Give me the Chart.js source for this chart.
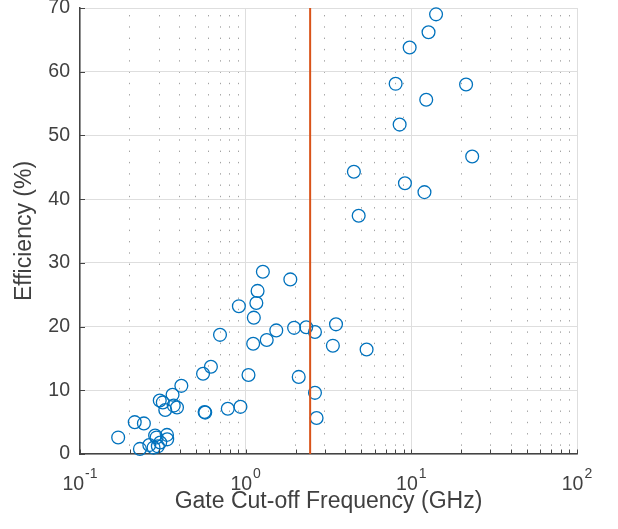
<!DOCTYPE html>
<html>
<head>
<meta charset="utf-8">
<script src="https://cdn.jsdelivr.net/npm/chart.js@4/dist/chart.umd.min.js"></script>
<style>
html,body{margin:0;padding:0;background:#fff;overflow:hidden}
#wrap{width:618px;height:529px;position:relative}
</style>
</head>
<body>
<div id="wrap"><canvas id="c" width="618" height="529"></canvas></div>
<script>
// ---- data ----
const freqGHz = [0.170,0.214,0.243,0.230,0.262,0.278,0.305,0.284,0.290,0.335,0.336,0.295,
  0.303,0.316,0.327,0.362,0.368,0.385,0.409,0.553,0.617,0.565,0.570,0.78,0.93,
  0.70,0.91,1.04,1.11,1.12,1.16,1.18,1.27,1.34,1.53,1.86,1.96,2.32,2.09,2.62,2.62,2.68,
  3.51,3.36,5.37,4.50,4.81,8.50,9.15,12.0,23.3,8.04,21.4,12.3,9.77,12.7,14.1];
const efficiencyPct = [2.6,5.0,4.8,0.8,1.4,1.0,1.8,2.9,2.6,3.0,2.3,1.2,
  8.4,8.1,6.9,9.3,7.6,7.3,10.7,12.6,13.7,6.6,6.5,7.1,7.4,
  18.7,23.2,12.4,17.3,21.4,23.7,25.6,28.6,17.9,19.4,27.4,19.8,19.9,12.1,19.15,9.6,5.65,
  20.35,17.0,16.4,44.3,37.4,51.7,42.5,41.1,46.7,58.1,58.0,55.6,63.8,66.2,69.0];
const cutoffLineFreq = [2.45, 2.45];
const cutoffLineEff = [0, 70];
const xDecadeExponents = [-1, 0, 1, 2];
const xTickBase = '10';
const yTickValues = [0, 10, 20, 30, 40, 50, 60, 70];
const xAxisTitle = 'Gate Cut-off Frequency (GHz)';
const yAxisTitle = 'Efficiency (%)';

// ---- styling ----
const FONT = '"Liberation Sans", Arial, Helvetica, sans-serif';
const TEXT = '#404040';
const AXIS = '#444444';
const GRID_MAJOR = '#dedede';
const GRID_MINOR = '#a3a3a3';
const BLUE = '#0072BD';
const RED = '#D95319';

function isDecade(v) {
  const l = Math.log10(v);
  return Math.abs(l - Math.round(l)) < 1e-6;
}
function isIntSignificand(v) {
  const s = v / Math.pow(10, Math.floor(Math.log10(v) + 1e-9));
  return Math.abs(s - Math.round(s)) < 1e-6;
}

const axisDecor = {
  id: 'axisDecor',
  afterDraw(chart) {
    const {ctx, chartArea: a, scales: {x, y}} = chart;
    ctx.save();
    ctx.strokeStyle = AXIS;
    ctx.lineWidth = 1;
    y.ticks.forEach(t => {
      const py = Math.round(y.getPixelForValue(t.value)) + 0.5;
      ctx.beginPath(); ctx.moveTo(a.left, py); ctx.lineTo(a.left + 5, py); ctx.stroke();
    });
    x.ticks.forEach(t => {
      const px = Math.round(x.getPixelForValue(t.value)) + 0.5;
      ctx.beginPath(); ctx.moveTo(px, a.bottom); ctx.lineTo(px, a.bottom - 4.5); ctx.stroke();
    });
    ctx.fillStyle = TEXT;
    ctx.textBaseline = 'alphabetic';
    ctx.textAlign = 'left';
    const baseFont = '19.5px ' + FONT;
    const expFont = '14px ' + FONT;
    xDecadeExponents.forEach(e => {
      const px = x.getPixelForValue(Math.pow(10, e));
      ctx.font = baseFont;
      const wb = ctx.measureText(xTickBase).width;
      ctx.font = expFont;
      const es = String(e);
      const we = ctx.measureText(es).width;
      const sx = px - (wb + 1 + we) / 2;
      ctx.font = baseFont;
      ctx.fillText(xTickBase, sx, a.bottom + 35.5);
      ctx.font = expFont;
      ctx.fillText(es, sx + wb + 1, a.bottom + 24);
    });
    ctx.restore();
  }
};

const pts = freqGHz.map((f, i) => ({x: f, y: efficiencyPct[i]}));
const linePts = cutoffLineFreq.map((f, i) => ({x: f, y: cutoffLineEff[i]}));

new Chart(document.getElementById('c'), {
  type: 'scatter',
  data: {
    datasets: [
      {
        label: 'cut-off',
        data: linePts,
        showLine: true,
        borderColor: RED,
        borderWidth: 2,
        pointRadius: 0,
        fill: false,
        clip: false
      },
      {
        label: 'efficiency',
        data: pts,
        pointStyle: 'circle',
        pointRadius: 6.4,
        pointBorderWidth: 1.3,
        pointBorderColor: BLUE,
        pointBackgroundColor: 'rgba(0,0,0,0)',
        borderColor: BLUE,
        backgroundColor: 'rgba(0,0,0,0)',
        clip: false
      }
    ]
  },
  options: {
    responsive: false,
    animation: false,
    devicePixelRatio: 1,
    layout: {padding: {left: 0, right: 41, top: 8, bottom: 0}},
    plugins: {legend: {display: false}, tooltip: {enabled: false}},
    scales: {
      x: {
        type: 'logarithmic',
        min: 0.1,
        max: 100,
        afterBuildTicks: s => { s.ticks = s.ticks.filter(t => isIntSignificand(t.value)); },
        afterFit: s => { s.height = 75; s.paddingLeft = 0; s.paddingRight = 0; s.paddingTop = 0; s.paddingBottom = 0; },
        ticks: {display: false, autoSkip: false},
        grid: {
          drawTicks: false,
          lineWidth: 1,
          color: c => (c.tick && !isDecade(c.tick.value)) ? GRID_MINOR : GRID_MAJOR
        },
        border: {
          display: true,
          color: AXIS,
          width: 1.5,
          dash: c => (c.tick && !isDecade(c.tick.value)) ? [1.4, 9.9] : [],
          dashOffset: c => (c.tick && !isDecade(c.tick.value)) ? 4.3 : 0
        },
        title: {
          display: true,
          text: xAxisTitle,
          color: TEXT,
          font: {family: FONT, size: 23},
          padding: {top: 0, bottom: 14}
        }
      },
      y: {
        type: 'linear',
        min: 0,
        max: 70,
        afterBuildTicks: s => { s.ticks = yTickValues.map(v => ({value: v})); },
        afterFit: s => { s.width = 80; s.paddingTop = 0; s.paddingBottom = 0; s.paddingLeft = 0; s.paddingRight = 0; },
        ticks: {
          color: TEXT,
          font: {family: FONT, size: 19.5},
          padding: 10
        },
        grid: {drawTicks: false, color: GRID_MAJOR, lineWidth: 1},
        border: {display: true, color: AXIS, width: 1.5},
        title: {
          display: true,
          text: yAxisTitle,
          color: TEXT,
          font: {family: FONT, size: 23},
          padding: {top: 11, bottom: 0}
        }
      }
    }
  },
  plugins: [axisDecor]
});
</script>
</body>
</html>
